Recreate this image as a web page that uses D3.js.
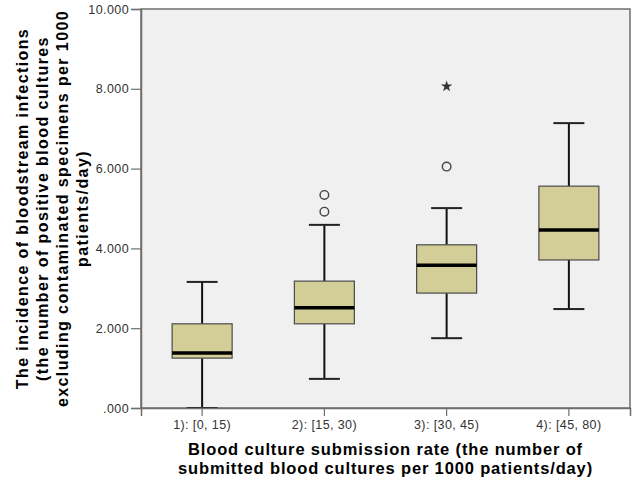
<!DOCTYPE html>
<html>
<head>
<meta charset="UTF-8">
<script src="https://cdn.jsdelivr.net/npm/d3@7"></script>
<style>
  body { margin: 0; background: #fff; }
  text { font-family: "Liberation Sans", Arial, sans-serif; }
</style>
</head>
<body>
<svg id="chart" width="635" height="479"></svg>
<script>
// groups and box statistics
let categories  = ["1): [0, 15)", "2): [15, 30)", "3): [30, 45)", "4): [45, 80)"];
let whiskerLow  = [0.00, 0.73, 1.75, 2.48];
let q1          = [1.25, 2.11, 2.88, 3.71];
let median      = [1.38, 2.51, 3.58, 4.46];
let q3          = [2.11, 3.18, 4.09, 5.56];
let whiskerHigh = [3.16, 4.59, 5.01, 7.14];
// outliers (circles) and extremes (stars)
let outlierGroup = [1, 1, 2];
let outlierValue = [4.92, 5.34, 6.05];
let extremeGroup = [2];
let extremeValue = [8.06];
let yTicks = [0, 2, 4, 6, 8, 10];

let svg = d3.select("#chart");
let pLeft = 141, pRight = 630, pTop = 9, pBottom = 408;

let x = d3.scaleBand().domain(categories).range([pLeft, pRight]);
let y = d3.scaleLinear().domain([0, 10]).range([pBottom, pTop]);

// plot background
svg.append("rect")
    .attr("x", pLeft).attr("y", pTop)
    .attr("width", pRight - pLeft).attr("height", pBottom - pTop)
    .attr("fill", "#f0f0f0")
    .attr("stroke", "#6e6e6e").attr("stroke-width", 1.5);

let boxW = 60, capW = 31;
let rows = categories.map((c, i) => ({
    c, lo: whiskerLow[i], q1: q1[i], md: median[i], q3: q3[i], hi: whiskerHigh[i]
}));
let g = svg.append("g");
let cx = d => x(d.c) + x.bandwidth() / 2;

// whiskers
g.selectAll(".wl").data(rows).join("line")
    .attr("x1", cx).attr("x2", cx)
    .attr("y1", d => y(d.hi)).attr("y2", d => y(d.q3))
    .attr("stroke", "#111").attr("stroke-width", 2);
g.selectAll(".wl2").data(rows).join("line")
    .attr("x1", cx).attr("x2", cx)
    .attr("y1", d => y(d.q1)).attr("y2", d => y(d.lo))
    .attr("stroke", "#111").attr("stroke-width", 2);
["hi", "lo"].forEach(k => {
    g.selectAll(".cap" + k).data(rows).join("line")
        .attr("x1", d => cx(d) - capW / 2).attr("x2", d => cx(d) + capW / 2)
        .attr("y1", d => y(d[k])).attr("y2", d => y(d[k]))
        .attr("stroke", "#222").attr("stroke-width", 2);
});
// boxes
g.selectAll(".box").data(rows).join("rect")
    .attr("x", d => cx(d) - boxW / 2).attr("width", boxW)
    .attr("y", d => y(d.q3)).attr("height", d => y(d.q1) - y(d.q3))
    .attr("fill", "#d3ce97").attr("stroke", "#4a4a4a").attr("stroke-width", 1.2);
// medians
g.selectAll(".med").data(rows).join("line")
    .attr("x1", d => cx(d) - boxW / 2).attr("x2", d => cx(d) + boxW / 2)
    .attr("y1", d => y(d.md)).attr("y2", d => y(d.md))
    .attr("stroke", "#000").attr("stroke-width", 3.5);

// outliers
svg.selectAll(".out").data(outlierValue).join("circle")
    .attr("cx", (v, i) => x(categories[outlierGroup[i]]) + x.bandwidth() / 2)
    .attr("cy", v => y(v)).attr("r", 4.3)
    .attr("fill", "none").attr("stroke", "#444").attr("stroke-width", 1.4);
svg.selectAll(".ext").data(extremeValue).join("path")
    .attr("d", d3.symbol(d3.symbolStar, 40))
    .attr("transform", (v, i) => `translate(${x(categories[extremeGroup[i]]) + x.bandwidth() / 2},${y(v)})`)
    .attr("fill", "#333");

// axes
let fmt = v => d3.format(".3f")(v).replace(/^0\./, ".");
let yAxis = svg.append("g").attr("transform", `translate(${pLeft},0)`)
    .call(d3.axisLeft(y).tickValues(yTicks).tickFormat(fmt).tickSize(10).tickPadding(2));
let xAxis = svg.append("g").attr("transform", `translate(0,${pBottom})`)
    .call(d3.axisBottom(x).tickSize(8).tickPadding(4));
[yAxis, xAxis].forEach(a => {
    a.select(".domain").attr("stroke", "#6e6e6e").attr("stroke-width", 1.5);
    a.selectAll(".tick line").attr("stroke", "#6e6e6e").attr("stroke-width", 1.2);
    a.selectAll(".tick text").attr("fill", "#333").style("font-size", "12.5px")
        .style("letter-spacing", "0.4px")
        .style("font-family", "'Liberation Sans', Arial, sans-serif");
});

// axis titles
let yTitle = ["The incidence of bloodstream infections",
              "(the number of positive blood cultures",
              "excluding contaminated specimens per 1000",
              "patients/day)"];
let yt = svg.append("text")
    .attr("transform", `translate(22,${(pTop + pBottom) / 2}) rotate(-90)`)
    .attr("text-anchor", "middle")
    .style("font-size", "16px").style("font-weight", "bold").style("letter-spacing", "1.4px")
    .attr("fill", "#000");
yTitle.forEach((t, i) => yt.append("tspan").attr("x", 0).attr("y", i * 20).attr("dy", "0.35em").text(t));

let xTitle = ["Blood culture submission rate (the number of",
              "submitted blood cultures per 1000 patients/day)"];
let xt = svg.append("text")
    .attr("transform", `translate(${(pLeft + pRight) / 2},449)`)
    .attr("text-anchor", "middle")
    .style("font-size", "16.5px").style("font-weight", "bold").style("letter-spacing", "0.85px")
    .attr("fill", "#000");
xTitle.forEach((t, i) => xt.append("tspan").attr("x", 0).attr("y", i * 19.5).attr("dy", "0.35em").text(t));
</script>
</body>
</html>
